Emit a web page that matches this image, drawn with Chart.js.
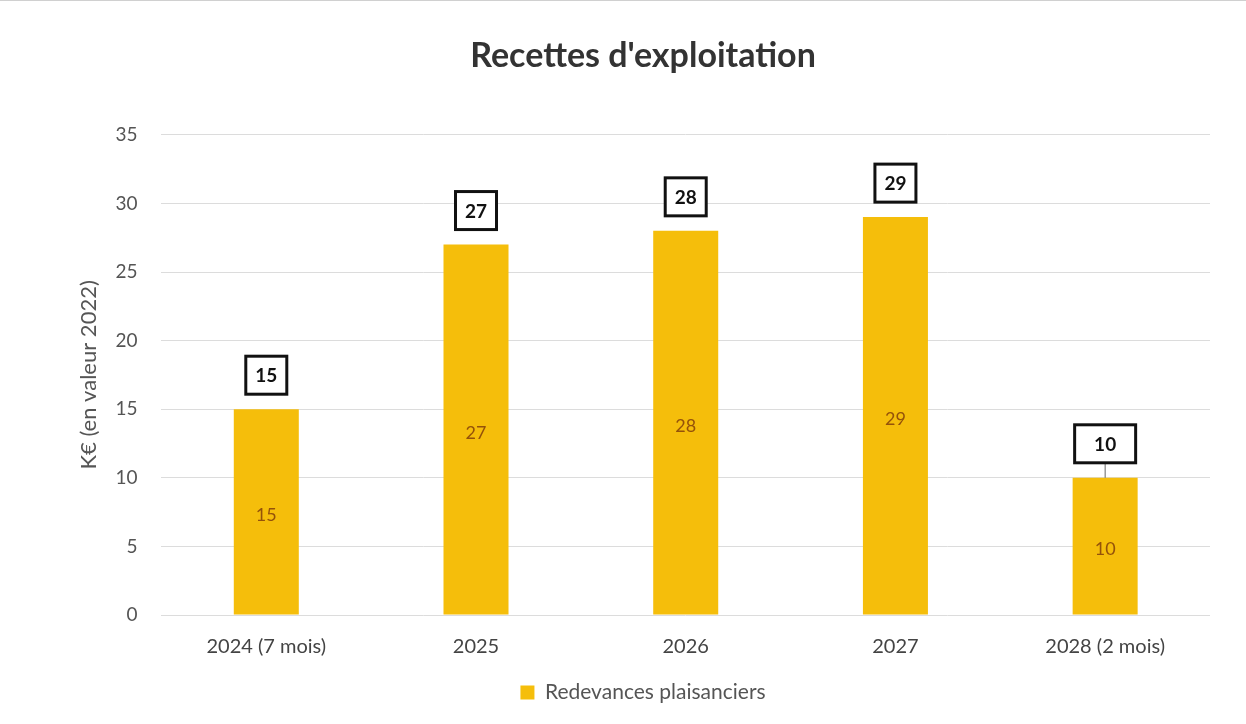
<!DOCTYPE html>
<html>
<head>
<meta charset="utf-8">
<script src="https://cdn.jsdelivr.net/npm/chart.js@4.4.0/dist/chart.umd.min.js"></script>
<style>
html,body{margin:0;padding:0;background:#fff;}
#wrap{position:relative;width:1246px;height:724px;box-sizing:border-box;border-top:1px solid #d0d0d0;}
</style>
</head>
<body>
<div id="wrap"><canvas id="c" width="1246" height="723"></canvas></div>
<script>
const categories = ["2024 (7 mois)", "2025", "2026", "2027", "2028 (2 mois)"];
const redevances = [15, 27, 28, 29, 10];
const yTicks = [0, 5, 10, 15, 20, 25, 30, 35];
const seriesName = "Redevances plaisanciers";
const chartTitle = "Recettes d'exploitation";
const yTitle = "K€ (en valeur 2022)";
const boxWide = [false, false, false, false, true];
const boxLeader = [false, false, false, false, true];

const FONT = "Lato, 'Open Sans', sans-serif";

const labelPlugin = {
  id: 'boxLabels',
  afterDatasetsDraw(chart) {
    const ctx = chart.ctx;
    const meta = chart.getDatasetMeta(0);
    const ys = chart.scales.y;
    ctx.save();
    meta.data.forEach((bar, i) => {
      const v = chart.data.datasets[0].data[i];
      const top = ys.getPixelForValue(v);
      const base = ys.getPixelForValue(0);
      const x = bar.x;
      ctx.font = "18px " + FONT;
      ctx.fillStyle = "#94520a";
      ctx.textAlign = "center";
      ctx.textBaseline = "middle";
      ctx.fillText(String(v), x, (top + base) / 2 + 3);
      const w = boxWide[i] ? 61 : 41;
      const h = 38;
      const gap = 15;
      const by = top - gap - h;
      if (boxLeader[i]) {
        ctx.strokeStyle = "#666";
        ctx.lineWidth = 1;
        ctx.beginPath();
        ctx.moveTo(x, top - gap);
        ctx.lineTo(x, top);
        ctx.stroke();
      }
      ctx.fillStyle = "#fff";
      ctx.fillRect(x - w / 2, by, w, h);
      ctx.strokeStyle = "#111";
      ctx.lineWidth = 3;
      ctx.strokeRect(x - w / 2, by, w, h);
      ctx.fillStyle = "#111";
      ctx.font = "bold 19px " + FONT;
      ctx.fillText(String(v), x, by + h / 2 + 1);
    });
    ctx.restore();
  }
};

new Chart(document.getElementById('c'), {
  type: 'bar',
  data: {
    labels: categories,
    datasets: [{
      label: seriesName,
      data: redevances,
      backgroundColor: '#F5BE0B',
      borderWidth: 0,
      categoryPercentage: 1.0,
      barPercentage: 0.31
    }]
  },
  options: {
    responsive: false,
    animation: false,
    devicePixelRatio: 1,
    layout: { padding: { left: 76, right: 36, top: 10, bottom: 11 } },
    plugins: {
      title: {
        display: true,
        text: chartTitle,
        color: '#333',
        font: { family: FONT, size: 34, weight: 'bold' },
        padding: { top: 25, bottom: 58 }
      },
      legend: {
        position: 'bottom',
        labels: {
          color: '#555',
          font: { family: FONT, size: 21 },
          boxWidth: 14,
          boxHeight: 14,
          padding: 11
        }
      },
      tooltip: { enabled: false }
    },
    scales: {
      x: {
        grid: { display: false },
        border: { display: false },
        ticks: { color: '#444', font: { family: FONT, size: 20 }, padding: 12 }
      },
      y: {
        min: 0, max: 35,
        afterBuildTicks(axis) { axis.ticks = yTicks.map(v => ({ value: v })); },
        grid: { color: '#dcdcdc', drawTicks: false, lineWidth: 1 },
        border: { display: false },
        ticks: { color: '#555', font: { family: FONT, size: 19 }, padding: 24 },
        title: {
          display: true,
          text: yTitle,
          color: '#555',
          font: { family: FONT, size: 22 },
          padding: { top: 0, bottom: -11 }
        }
      }
    }
  },
  plugins: [labelPlugin]
});
</script>
</body>
</html>
